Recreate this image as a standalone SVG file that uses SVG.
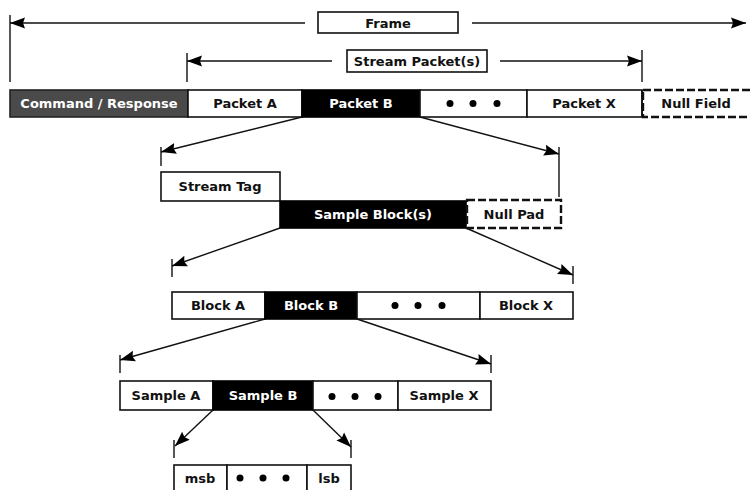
<svg xmlns="http://www.w3.org/2000/svg" width="750" height="490" viewBox="0 0 750 490">
<style>
text{font-family:"DejaVu Sans","Liberation Sans",sans-serif;font-weight:bold;font-size:13px;text-anchor:middle;fill:#111}
.w{fill:#fff;stroke:#111;stroke-width:1.6}
.b{fill:#000;stroke:#000;stroke-width:1.6}
.g{fill:#4a4a4a;stroke:#222;stroke-width:1.6}
.d{fill:#fff;stroke:#111;stroke-width:2.4;stroke-dasharray:8,3}
.lt{fill:#fff}
.ln{stroke:#111;stroke-width:1.4;fill:none}
.ar{stroke:#111;stroke-width:1.4;fill:none;marker-end:url(#ah)}
.dot{fill:#000}
</style>
<defs>
<marker id="ah" markerUnits="userSpaceOnUse" markerWidth="18" markerHeight="14" refX="15" refY="7" orient="auto">
<path d="M0,1.5 L15,7 L0,12.5 L2,7 z" fill="#000"/>
</marker>
</defs>
<g id="connectors">
<line class="ar" x1="305" y1="23" x2="10" y2="23"/>
<line class="ar" x1="472" y1="23" x2="746" y2="23"/>
<line class="ln" x1="10" y1="15" x2="10" y2="82"/>
<line class="ar" x1="332" y1="61" x2="187" y2="61"/>
<line class="ar" x1="500" y1="61" x2="642" y2="61"/>
<line class="ln" x1="187" y1="53" x2="187" y2="82"/>
<line class="ln" x1="642" y1="50" x2="642" y2="82"/>
<line class="ar" x1="302" y1="117" x2="161" y2="152"/>
<line class="ar" x1="420" y1="117" x2="559" y2="154"/>
<line class="ln" x1="161" y1="147" x2="161" y2="166"/>
<line class="ln" x1="559" y1="147" x2="559" y2="197"/>
<line class="ar" x1="280" y1="228" x2="172" y2="266"/>
<line class="ar" x1="466" y1="228" x2="573" y2="275"/>
<line class="ln" x1="172" y1="259" x2="172" y2="277"/>
<line class="ln" x1="573" y1="266" x2="573" y2="284"/>
<line class="ar" x1="265" y1="319" x2="120" y2="360"/>
<line class="ar" x1="357" y1="319" x2="491" y2="364"/>
<line class="ln" x1="120" y1="355" x2="120" y2="373"/>
<line class="ln" x1="491" y1="355" x2="491" y2="373"/>
<line class="ar" x1="213" y1="410" x2="175" y2="446"/>
<line class="ar" x1="313" y1="410" x2="351" y2="447"/>
<line class="ln" x1="174" y1="440" x2="174" y2="458"/>
<line class="ln" x1="351" y1="440" x2="351" y2="458"/>
</g>
<g id="frame-label"><rect class="w" x="318" y="12" width="140" height="21"/><text x="388" y="27.5">Frame</text></g>
<g id="stream-packets-label"><rect class="w" x="347" y="50" width="140" height="22"/><text x="417" y="65.5">Stream Packet(s)</text></g>
<g id="command-response"><rect class="g" x="10" y="90" width="178" height="27"/><text class="lt" x="99" y="108">Command / Response</text></g>
<g id="packet-a"><rect class="w" x="188" y="90" width="114" height="27"/><text x="245" y="108">Packet A</text></g>
<g id="packet-b"><rect class="b" x="302" y="90" width="118" height="27"/><text class="lt" x="361" y="108">Packet B</text></g>
<g id="packet-dots"><rect class="w" x="420" y="90" width="107" height="27"/><circle class="dot" cx="450" cy="103.5" r="3.5"/><circle class="dot" cx="473" cy="103.5" r="3.5"/><circle class="dot" cx="497" cy="103.5" r="3.5"/></g>
<g id="packet-x"><rect class="w" x="527" y="90" width="115" height="27"/><text x="584" y="108">Packet X</text></g>
<g id="null-field"><rect class="d" x="643" y="90" width="110" height="27"/><line class="ln" x1="642" y1="90" x2="642" y2="117" style="stroke-width:1.6"/><text x="696" y="108">Null Field</text></g>
<g id="stream-tag"><rect class="w" x="161" y="172" width="119" height="29"/><text x="220" y="191">Stream Tag</text></g>
<g id="sample-blocks"><rect class="b" x="280" y="201" width="186" height="27"/><text class="lt" x="373" y="219">Sample Block(s)</text></g>
<g id="null-pad"><rect class="d" x="467" y="200" width="94" height="28"/><text x="514" y="219">Null Pad</text></g>
<g id="block-a"><rect class="w" x="172" y="292" width="93" height="27"/><text x="218" y="310">Block A</text></g>
<g id="block-b"><rect class="b" x="265" y="292" width="92" height="27"/><text class="lt" x="311" y="310">Block B</text></g>
<g id="block-dots"><rect class="w" x="357" y="292" width="123" height="27"/><circle class="dot" cx="395" cy="305.5" r="3.5"/><circle class="dot" cx="418" cy="305.5" r="3.5"/><circle class="dot" cx="442" cy="305.5" r="3.5"/></g>
<g id="block-x"><rect class="w" x="480" y="292" width="93" height="27"/><text x="526" y="310">Block X</text></g>
<g id="sample-a"><rect class="w" x="120" y="381" width="93" height="29"/><text x="166" y="400">Sample A</text></g>
<g id="sample-b"><rect class="b" x="213" y="381" width="100" height="29"/><text class="lt" x="263" y="400">Sample B</text></g>
<g id="sample-dots"><rect class="w" x="313" y="381" width="85" height="29"/><circle class="dot" cx="332" cy="396.5" r="3.5"/><circle class="dot" cx="355" cy="396.5" r="3.5"/><circle class="dot" cx="378" cy="396.5" r="3.5"/></g>
<g id="sample-x"><rect class="w" x="398" y="381" width="93" height="29"/><text x="444" y="400">Sample X</text></g>
<g id="msb"><rect class="w" x="174" y="465" width="53" height="30"/><text x="200" y="483">msb</text></g>
<g id="bit-dots"><rect class="w" x="227" y="465" width="80" height="30"/><circle class="dot" cx="240" cy="478" r="3.5"/><circle class="dot" cx="263" cy="478" r="3.5"/><circle class="dot" cx="286" cy="478" r="3.5"/></g>
<g id="lsb"><rect class="w" x="307" y="465" width="44" height="30"/><text x="329" y="483">lsb</text></g>
</svg>
